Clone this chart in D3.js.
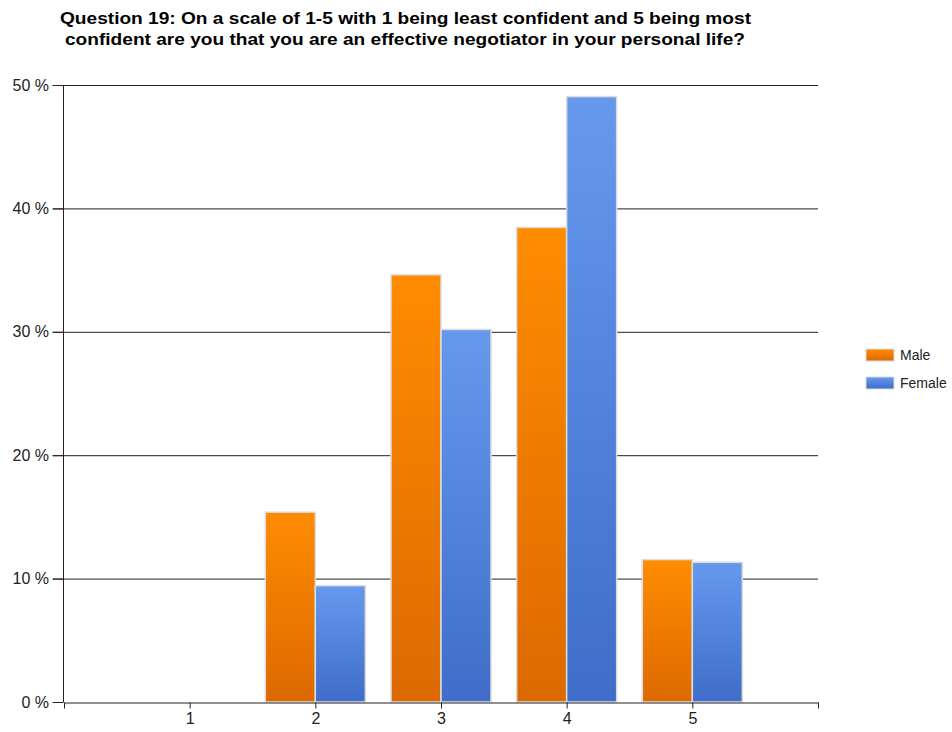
<!DOCTYPE html>
<html>
<head>
<meta charset="utf-8">
<script src="https://cdn.jsdelivr.net/npm/d3@7"></script>
<style>
  body { margin: 0; background: #fff; }
  text { font-family: "Liberation Sans", Arial, sans-serif; }
</style>
</head>
<body>
<div id="chart"></div>
<script>
var categories = ["1", "2", "3", "4", "5"];
var seriesNames = ["Male", "Female"];
var maleValues = [0, 15.38, 34.62, 38.46, 11.54];
var femaleValues = [0, 9.43, 30.19, 49.06, 11.32];
var yTicks = [0, 10, 20, 30, 40, 50];
var titleLines = [
  "Question 19: On a scale of 1-5 with 1 being least confident and 5 being most",
  "confident are you that you are an effective negotiator in your personal life?"
];

var width = 952, height = 732;
var plotLeft = 64, plotRight = 818, plotTop = 85, plotBottom = 702;

var svg = d3.select("#chart").append("svg")
  .attr("width", width)
  .attr("height", height);

var defs = svg.append("defs");
function gradient(id, c1, c2) {
  var g = defs.append("linearGradient")
    .attr("id", id)
    .attr("x1", 0).attr("y1", 0).attr("x2", 0).attr("y2", 1);
  g.append("stop").attr("offset", "0%").attr("stop-color", c1);
  g.append("stop").attr("offset", "100%").attr("stop-color", c2);
}
gradient("maleGrad", "#ff8c00", "#dc6900");
gradient("femaleGrad", "#6699ee", "#3f6dc9");

// title
svg.append("g").selectAll("text")
  .data(titleLines)
  .join("text")
    .attr("x", function(d, i) { return i == 0 ? 60 : 65; })
    .attr("y", function(d, i) { return 24 + i * 21; })
    .style("font-size", "17px")
    .style("font-weight", "bold")
    .style("fill", "#000")
    .attr("lengthAdjust", "spacingAndGlyphs")
    .attr("textLength", function(d, i) { return i == 0 ? 691 : 680; })
    .text(function(d) { return d; });

// x: positions 0..6, categories at 1..5
var x = d3.scaleLinear().domain([0, 6]).range([plotLeft, plotRight]);
var y = d3.scaleLinear().domain([0, 50]).range([plotBottom, plotTop]);
var barW = 50;

// grid lines
svg.append("g").selectAll("line")
  .data(yTicks.filter(function(d) { return d > 0; }))
  .join("line")
    .attr("x1", plotLeft - 11)
    .attr("x2", plotRight)
    .attr("y1", function(d) { return y(d) + 0.5; })
    .attr("y2", function(d) { return y(d) + 0.5; })
    .style("stroke", "#222")
    .style("stroke-width", 1);

// bars
var series = [
  {name: "Male", values: maleValues, fill: "url(#maleGrad)", off: -1},
  {name: "Female", values: femaleValues, fill: "url(#femaleGrad)", off: 0}
];
series.forEach(function(s) {
  var rows = s.values.map(function(v, i) { return {pos: i + 1, v: v}; })
    .filter(function(d) { return d.v > 0; });
  svg.append("g").selectAll("rect")
    .data(rows)
    .join("rect")
      .attr("x", function(d) { return x(d.pos) + s.off * barW; })
      .attr("y", function(d) { return y(d.v); })
      .attr("width", barW)
      .attr("height", function(d) { return plotBottom - y(d.v); })
      .style("fill", s.fill)
      .style("stroke", "#dcdcdc")
      .style("stroke-width", 1.5);
});

// y axis
var yAxis = svg.append("g")
  .attr("transform", "translate(" + (plotLeft - 0.5) + ",0)")
  .call(d3.axisLeft(y).tickValues(yTicks).tickSize(11).tickSizeOuter(0)
    .tickFormat(function(d) { return d + " %"; }));
yAxis.select(".domain").style("stroke", "#222").attr("d", "M0," + plotTop + "V" + plotBottom);
yAxis.selectAll(".tick line").style("stroke", "#222");
yAxis.selectAll("text")
  .style("font-size", "16px")
  .style("fill", "#222")
  .attr("x", -14.5);

// x axis
var xAxis = svg.append("g")
  .attr("transform", "translate(0," + (plotBottom + 0.5) + ")")
  .call(d3.axisBottom(x).tickValues([0, 1, 2, 3, 4, 5, 6]).tickSize(6).tickSizeOuter(0)
    .tickFormat(function(d) { return (d >= 1 && d <= 5) ? categories[d - 1] : ""; }));
xAxis.select(".domain").style("stroke", "#222");
xAxis.selectAll(".tick line").style("stroke", "#222");
xAxis.selectAll("text")
  .style("font-size", "16px")
  .style("fill", "#222")
  .attr("y", 10);

// legend
var legend = svg.append("g").attr("transform", "translate(866,349)");
legend.selectAll("rect")
  .data(series)
  .join("rect")
    .attr("x", 0)
    .attr("y", function(d, i) { return i * 28; })
    .attr("width", 28)
    .attr("height", 12)
    .style("fill", function(d) { return d.fill; })
    .style("stroke", "#dcdcdc");
legend.selectAll("text")
  .data(series)
  .join("text")
    .attr("x", 34)
    .attr("y", function(d, i) { return i * 28 + 11; })
    .style("font-size", "14px")
    .style("fill", "#222")
    .text(function(d) { return d.name; });
</script>
</body>
</html>
